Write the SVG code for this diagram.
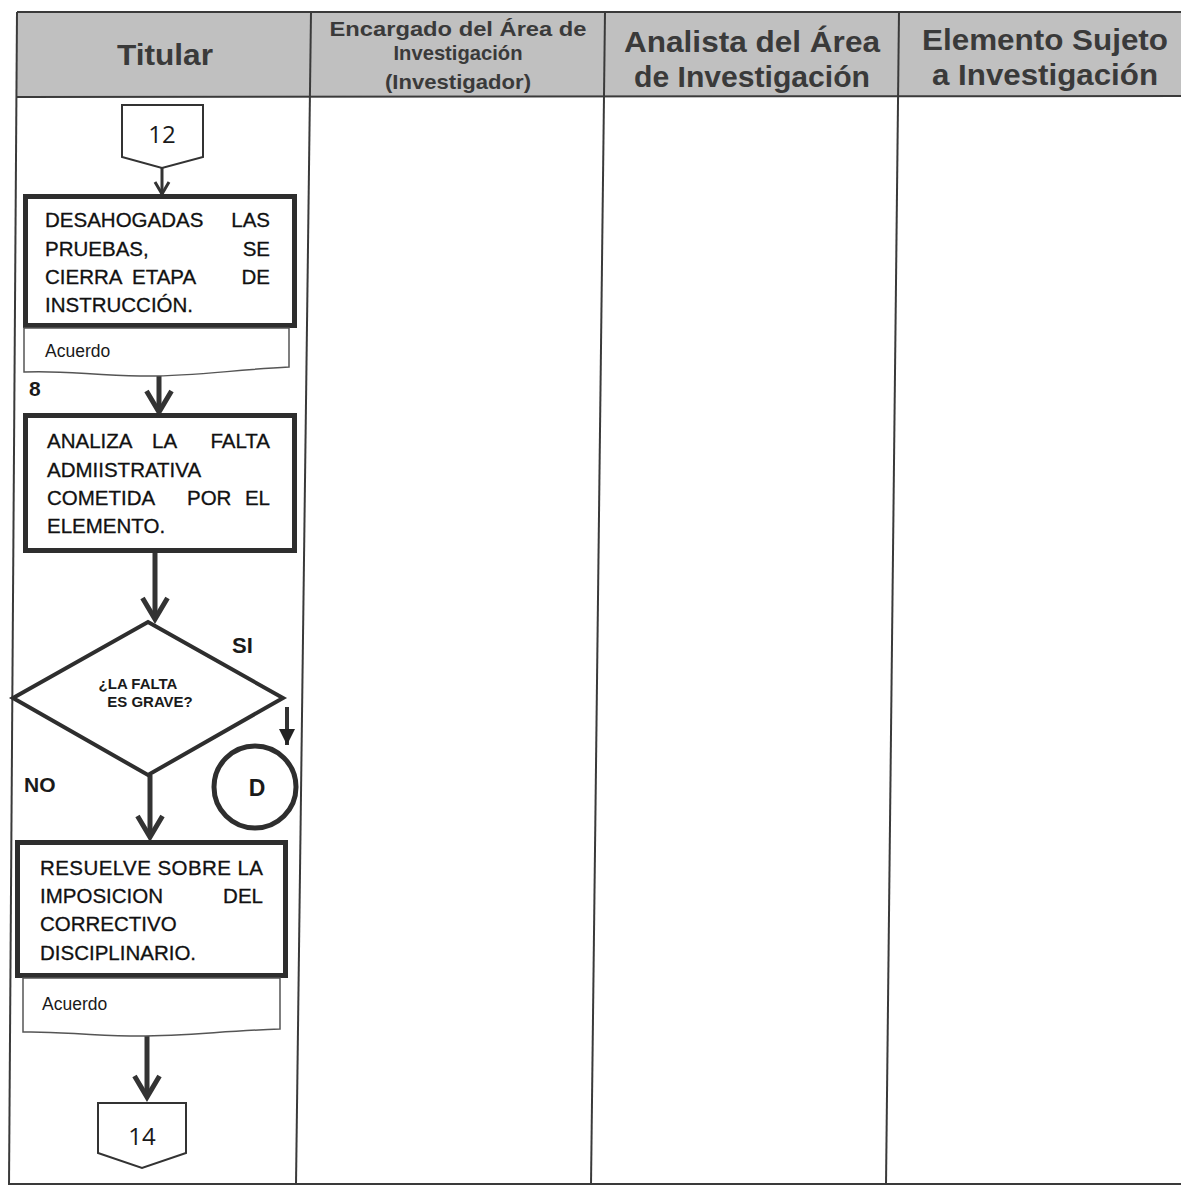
<svg xmlns="http://www.w3.org/2000/svg" width="1181" height="1186" viewBox="0 0 1181 1186">
<style>
.frame{stroke:#3a3a3a;stroke-width:2;fill:none}
.hdr{font-family:"Liberation Sans",Arial,sans-serif;font-weight:bold;fill:#3a3a3a}
.box{fill:#fff;stroke:#2e2e2e;stroke-width:5}
.doc{fill:#fff;stroke:#555;stroke-width:1.5}
.off{fill:#fff;stroke:#333;stroke-width:2}
.t{font-family:"Liberation Sans",Arial,sans-serif;font-size:20.5px;fill:#111;stroke:#111;stroke-width:0.3}
.small{font-family:"Liberation Sans",Arial,sans-serif;font-size:17.5px;fill:#1a1a1a}
.b{font-family:"Liberation Sans",Arial,sans-serif;font-weight:bold;fill:#1a1a1a}
.num{font-family:"Open Sans","Noto Sans",sans-serif;font-size:24px;fill:#1a1a1a;text-anchor:middle}
.c{stroke:#333;stroke-width:5;fill:none}
.cs{stroke:#333;stroke-width:3;fill:none}
</style>
<defs>
<marker id="chev" markerUnits="userSpaceOnUse" viewBox="-26 -16 30 32" markerWidth="30" markerHeight="32" refX="0" refY="0" orient="auto" overflow="visible">
<path d="M-21,-12.5 L0,0 L-21,12.5" fill="none" stroke="#333" stroke-width="5" stroke-linejoin="miter"/>
</marker>
<marker id="chevs" markerUnits="userSpaceOnUse" viewBox="-16 -10 18 20" markerWidth="18" markerHeight="20" refX="0" refY="0" orient="auto" overflow="visible">
<path d="M-12,-7 L0,0 L-12,7" fill="none" stroke="#333" stroke-width="3"/>
</marker>
<marker id="tri" markerUnits="userSpaceOnUse" viewBox="-16 -8 18 16" markerWidth="18" markerHeight="16" refX="0" refY="0" orient="auto" overflow="visible">
<path d="M-16,-8 L0,0 L-16,8 Z" fill="#222"/>
</marker>
</defs>

<g id="table">
<polygon points="17,12 1181,12 1181,97 16,97" fill="#c0c0c0"/>
<line class="frame" x1="17" y1="12" x2="1181" y2="12"/>
<line class="frame" x1="16" y1="97" x2="1181" y2="96"/>
<line class="frame" x1="17" y1="12" x2="9" y2="1185"/>
<line class="frame" x1="311" y1="12" x2="296" y2="1185"/>
<line class="frame" x1="605" y1="12" x2="591" y2="1185"/>
<line class="frame" x1="899" y1="12" x2="886" y2="1185"/>
<line class="frame" x1="9" y1="1184" x2="1181" y2="1184"/>
<text class="hdr" x="165" y="65" font-size="29" text-anchor="middle" textLength="96" lengthAdjust="spacingAndGlyphs">Titular</text>
<text class="hdr" x="458" y="36" font-size="21" text-anchor="middle" textLength="257" lengthAdjust="spacingAndGlyphs">Encargado del Área de</text>
<text class="hdr" x="458" y="60" font-size="21" text-anchor="middle" textLength="129" lengthAdjust="spacingAndGlyphs">Investigación</text>
<text class="hdr" x="458" y="89" font-size="21" text-anchor="middle" textLength="146" lengthAdjust="spacingAndGlyphs">(Investigador)</text>
<text class="hdr" x="752" y="52" font-size="29" text-anchor="middle" textLength="256" lengthAdjust="spacingAndGlyphs">Analista del Área</text>
<text class="hdr" x="752" y="87" font-size="29" text-anchor="middle" textLength="236" lengthAdjust="spacingAndGlyphs">de Investigación</text>
<text class="hdr" x="1045" y="50" font-size="29" text-anchor="middle" textLength="246" lengthAdjust="spacingAndGlyphs">Elemento Sujeto</text>
<text class="hdr" x="1045" y="85" font-size="29" text-anchor="middle" textLength="226" lengthAdjust="spacingAndGlyphs">a Investigación</text>
</g>

<g id="connectors">
<line class="cs" x1="162" y1="168" x2="162" y2="194" marker-end="url(#chevs)"/>
<line class="c" x1="159" y1="373" x2="159" y2="412" marker-end="url(#chev)"/>
<line class="c" x1="155" y1="553" x2="155" y2="619" marker-end="url(#chev)"/>
<line class="c" x1="287" y1="707" x2="287" y2="745" marker-end="url(#tri)" style="stroke-width:4"/>
<line class="c" x1="150" y1="775" x2="150" y2="837" marker-end="url(#chev)"/>
<line class="c" x1="147" y1="1033" x2="147" y2="1097" marker-end="url(#chev)"/>
</g>

<g id="n12">
<path class="off" d="M122,105 H203 V157 L162,168 L122,157 Z"/>
<text class="num" x="162" y="143">12</text>
</g>

<g id="n1">
<rect class="box" x="25.5" y="196.5" width="269" height="129"/>
<text class="t" x="45" y="227">DESAHOGADAS</text><text class="t" x="270" y="227" text-anchor="end">LAS</text>
<text class="t" x="45" y="256">PRUEBAS,</text><text class="t" x="270" y="256" text-anchor="end">SE</text>
<text class="t" x="45" y="284">CIERRA</text><text class="t" x="132" y="284">ETAPA</text><text class="t" x="270" y="284" text-anchor="end">DE</text>
<text class="t" x="45" y="312">INSTRUCCIÓN.</text>
</g>

<g id="doc1">
<path class="doc" d="M24,328 H289 V367 C230,370 190,377 140,376 C90,375 60,370 24,372 Z"/>
<text class="small" x="45" y="357">Acuerdo</text>
</g>

<g id="lbl8">
<text class="b" x="29" y="396" font-size="21">8</text>
</g>

<g id="n2">
<rect class="box" x="25.5" y="415.5" width="269" height="135"/>
<text class="t" x="47" y="448">ANALIZA</text><text class="t" x="152" y="448">LA</text><text class="t" x="270" y="448" text-anchor="end">FALTA</text>
<text class="t" x="47" y="477">ADMIISTRATIVA</text>
<text class="t" x="47" y="505">COMETIDA</text><text class="t" x="187" y="505">POR</text><text class="t" x="270" y="505" text-anchor="end">EL</text>
<text class="t" x="47" y="533">ELEMENTO.</text>
</g>

<g id="dec">
<polygon points="148,622 283,698 148,775 13,698" fill="#fff" stroke="#2e2e2e" stroke-width="4" stroke-linejoin="miter"/>
<text class="b" x="138" y="689" font-size="15" text-anchor="middle">¿LA FALTA</text>
<text class="b" x="150" y="707" font-size="15" text-anchor="middle">ES GRAVE?</text>
</g>

<g id="lblSI"><text class="b" x="232" y="653" font-size="22">SI</text></g>
<g id="lblNO"><text class="b" x="24" y="792" font-size="21">NO</text></g>

<g id="nD">
<circle cx="255" cy="787" r="41" fill="#fff" stroke="#2e2e2e" stroke-width="5"/>
<text class="b" x="257" y="796" font-size="23" text-anchor="middle">D</text>
</g>

<g id="n3">
<rect class="box" x="17.5" y="842.5" width="268" height="133"/>
<text class="t" x="40" y="875" textLength="223" lengthAdjust="spacing">RESUELVE SOBRE LA</text>
<text class="t" x="40" y="903">IMPOSICION</text><text class="t" x="263" y="903" text-anchor="end">DEL</text>
<text class="t" x="40" y="931">CORRECTIVO</text>
<text class="t" x="40" y="960">DISCIPLINARIO.</text>
</g>

<g id="doc2">
<path class="doc" d="M23,978 H280 V1029 C220,1031 180,1037 130,1036 C80,1035 55,1031 23,1032 Z"/>
<text class="small" x="42" y="1010">Acuerdo</text>
</g>

<g id="n14">
<path class="off" d="M98,1103 H186 V1153 L142,1168 L98,1153 Z"/>
<text class="num" x="142" y="1145">14</text>
</g>
</svg>
